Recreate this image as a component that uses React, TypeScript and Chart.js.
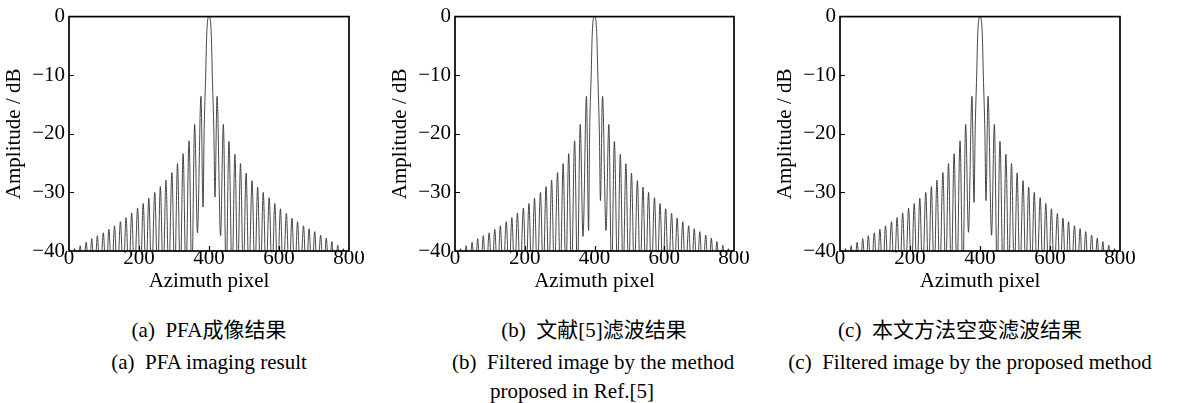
import React, { useEffect, useRef } from "react";
import { Chart, registerables } from "chart.js";

Chart.register(...registerables);

const FONT = '"Liberation Serif", "Noto Sans CJK SC", serif';

// Axis ticks
const X_TICKS = [0, 200, 400, 600, 800];
const Y_TICKS = [0, -10, -20, -30, -40];

// Main lobe (azimuth pixel, dB)
const MAIN_X = [386, 390.5, 393.5, 400, 406.5, 409.5, 414];
const MAIN_DB = [-20, -10, -3, 0, -3, -10, -20];

// Sidelobe peaks, left side (outer -> inner)
const PEAK_X_LEFT = [16, 32, 49, 65, 81, 98, 114, 130, 147, 163, 179, 196, 212, 228, 245, 261, 277, 294, 310, 326, 343, 359, 377];
const PEAK_DB_LEFT = [-39.6, -39.1, -38.5, -37.9, -37.4, -36.9, -36.3, -35.7, -35.0, -34.3, -33.5, -32.7, -31.9, -31.0, -30.0, -29.0, -27.9, -26.6, -25.1, -23.4, -21.2, -18.4, -13.6];

// Sidelobe peaks, right side (inner -> outer)
const PEAK_X_RIGHT = [423, 441, 457, 474, 490, 506, 523, 539, 555, 572, 588, 604, 621, 637, 653, 670, 686, 702, 719, 735, 751, 768, 784];
const PEAK_DB_RIGHT = [-13.6, -18.4, -21.3, -23.5, -25.1, -26.7, -28.0, -29.1, -30.0, -30.9, -31.9, -32.8, -33.6, -34.4, -35.0, -35.7, -36.2, -36.7, -37.3, -37.8, -38.4, -39.0, -39.6];

// Nulls that fall below the -40 dB floor
const DEEP_NULL_X = [0, 8, 24, 40, 57, 73, 89, 106, 122, 138, 155, 171, 187, 204, 220, 236, 253, 269, 285, 302, 318, 334, 351,
  449, 466, 482, 498, 514, 531, 547, 563, 580, 596, 612, 629, 645, 661, 678, 694, 710, 727, 743, 759, 776, 792, 800];
const DEEP_NULL_DB = -45;

// Visible inner nulls near the main lobe
const INNER_NULL_X = [367, 383, 417, 433];
const INNER_NULL_DB_A = [-36.9, -32.5, -30.8, -37.4];
const INNER_NULL_DB_B = [-37.5, -36.5, -31.4, -36.5];
const INNER_NULL_DB_C = [-36.8, -31.7, -31.4, -37.3];

function buildCurve(innerDb: number[]) {
  const pts: { x: number; y: number }[] = [];
  DEEP_NULL_X.forEach((x) => pts.push({ x, y: DEEP_NULL_DB }));
  INNER_NULL_X.forEach((x, i) => pts.push({ x, y: innerDb[i] }));
  PEAK_X_LEFT.forEach((x, i) => pts.push({ x, y: PEAK_DB_LEFT[i] }));
  PEAK_X_RIGHT.forEach((x, i) => pts.push({ x, y: PEAK_DB_RIGHT[i] }));
  MAIN_X.forEach((x, i) => pts.push({ x, y: MAIN_DB[i] }));
  pts.sort((a, b) => a.x - b.x);
  return pts;
}

const framePlugin = {
  id: "frameTicks",
  afterDatasetsDraw(chart: any) {
    const { ctx, chartArea, scales } = chart;
    const { left, right, top, bottom } = chartArea;
    ctx.save();
    ctx.strokeStyle = "#000";
    ctx.lineWidth = 1.2;
    ctx.beginPath();
    X_TICKS.forEach((v) => {
      if (v === X_TICKS[0] || v === X_TICKS[X_TICKS.length - 1]) return;
      const px = Math.round(scales.x.getPixelForValue(v)) + 0.5;
      ctx.moveTo(px, bottom);
      ctx.lineTo(px, bottom - 5);
    });
    Y_TICKS.forEach((v) => {
      if (v === Y_TICKS[0] || v === Y_TICKS[Y_TICKS.length - 1]) return;
      const py = Math.round(scales.y.getPixelForValue(v)) + 0.5;
      ctx.moveTo(left, py);
      ctx.lineTo(left + 5, py);
    });
    ctx.stroke();
    ctx.lineWidth = 1.7;
    ctx.strokeRect(left, top, right - left, bottom - top);
    ctx.restore();
  },
};

function Panel({ left, padRight, innerDb }: { left: number; padRight: number; innerDb: number[] }) {
  const ref = useRef<HTMLCanvasElement>(null);
  useEffect(() => {
    if (!ref.current) return;
    const chart = new Chart(ref.current, {
      type: "line",
      data: {
        datasets: [
          {
            data: buildCurve(innerDb),
            borderColor: "#333333",
            borderWidth: 0.9,
            pointRadius: 0,
            fill: false,
            cubicInterpolationMode: "monotone",
          },
        ],
      },
      options: {
        responsive: false,
        animation: false,
        devicePixelRatio: 1,
        layout: { padding: { top: 14, right: padRight, left: 0, bottom: 0 } },
        plugins: { legend: { display: false }, tooltip: { enabled: false } },
        scales: {
          x: {
            type: "linear",
            min: X_TICKS[0],
            max: X_TICKS[X_TICKS.length - 1],
            afterBuildTicks: (s: any) => {
              s.ticks = X_TICKS.map((v) => ({ value: v }));
            },
            ticks: {
              color: "#000",
              font: { family: FONT, size: 21 },
              padding: -5,
              maxRotation: 0,
              autoSkip: false,
            },
            grid: { display: false, drawTicks: false },
            border: { display: false },
            title: {
              display: true,
              text: "Azimuth pixel",
              color: "#000",
              font: { family: FONT, size: 21 },
              padding: { top: 0, bottom: 6 },
            },
            afterFit: (s: any) => {
              s.height = 49;
            },
          },
          y: {
            type: "linear",
            min: Y_TICKS[Y_TICKS.length - 1],
            max: Y_TICKS[0],
            afterBuildTicks: (s: any) => {
              s.ticks = Y_TICKS.slice().reverse().map((v) => ({ value: v }));
            },
            ticks: {
              color: "#000",
              font: { family: FONT, size: 21 },
              padding: 4,
              autoSkip: false,
              callback: (v: any) => (Number(v) < 0 ? "\u2212" + Math.abs(Number(v)) : String(v)),
            },
            grid: { display: false, drawTicks: false },
            border: { display: false },
            title: {
              display: true,
              text: "Amplitude / dB",
              color: "#000",
              font: { family: FONT, size: 21 },
              padding: { top: 2, bottom: 0 },
            },
            afterFit: (s: any) => {
              s.width = 69;
            },
          },
        },
      },
      plugins: [framePlugin],
    } as any);
    return () => chart.destroy();
  }, []);
  return (
    <canvas
      ref={ref}
      width={385}
      height={300}
      style={{ position: "absolute", left, top: 0, width: 385, height: 300 }}
    />
  );
}

const capStyle: React.CSSProperties = {
  position: "absolute",
  fontFamily: FONT,
  fontSize: 21,
  lineHeight: "30px",
  height: 30,
  whiteSpace: "pre",
  color: "#000",
};

function Centered({ cx, cy, text }: { cx: number; cy: number; text: string }) {
  return (
    <div style={{ ...capStyle, left: cx - 300, width: 600, top: cy - 15, textAlign: "center" }}>{text}</div>
  );
}

function LeftText({ x, cy, text }: { x: number; cy: number; text: string }) {
  return <div style={{ ...capStyle, left: x, top: cy - 15 }}>{text}</div>;
}

export default function App() {
  return (
    <div style={{ position: "absolute", left: 0, top: 0, width: 1179, height: 403, background: "#fff", overflow: "hidden" }}>
      <Panel left={0} padRight={36} innerDb={INNER_NULL_DB_A} />
      <Panel left={386} padRight={37} innerDb={INNER_NULL_DB_B} />
      <Panel left={771} padRight={36} innerDb={INNER_NULL_DB_C} />
      <Centered cx={209} cy={330} text={"(a)  PFA成像结果"} />
      <Centered cx={209} cy={362} text={"(a)  PFA imaging result"} />
      <Centered cx={594} cy={330} text={"(b)  文献[5]滤波结果"} />
      <LeftText x={452} cy={362} text={"(b)  Filtered image by the method"} />
      <LeftText x={490} cy={391} text={"proposed in Ref.[5]"} />
      <Centered cx={960} cy={330} text={"(c)  本文方法空变滤波结果"} />
      <Centered cx={970} cy={362} text={"(c)  Filtered image by the proposed method"} />
    </div>
  );
}
